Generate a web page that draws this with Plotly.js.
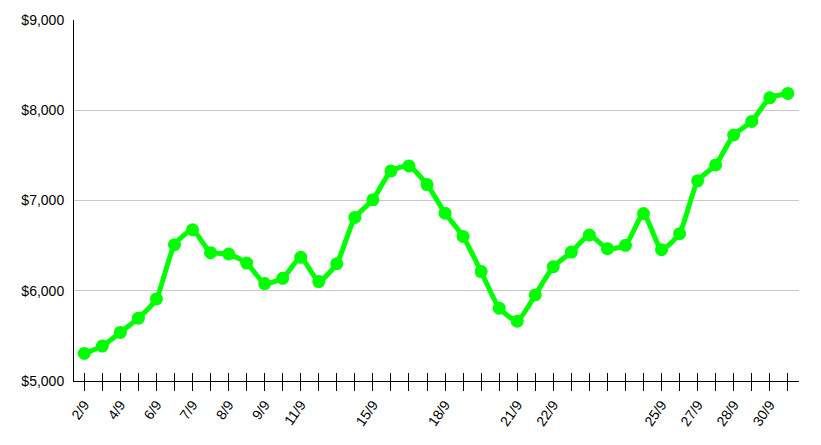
<!DOCTYPE html>
<html>
<head>
<meta charset="utf-8">
<script src="https://cdn.plot.ly/plotly-3.0.1.min.js"></script>
<style>html,body{margin:0;padding:0;background:#fff;}#chart{width:821px;height:445px;}</style>
</head>
<body>
<div id="chart"></div>
<script>
// Tick labels for each of the 40 points ("" = no label shown)
var tickLabels = [
  "2/9","","4/9","","6/9","","7/9","","8/9","",
  "9/9","","11/9","","","","15/9","","","",
  "18/9","","","","21/9","","22/9","","","",
  "","","25/9","","27/9","","28/9","","30/9",""
];
// Series values (USD)
var values = [
  5306, 5387, 5538, 5696, 5909, 6510, 6676, 6422, 6407, 6307,
  6080, 6138, 6370, 6102, 6300, 6812, 7008, 7328, 7383, 7177,
  6860, 6602, 6212, 5807, 5663, 5954, 6267, 6429, 6617, 6466,
  6503, 6856, 6455, 6632, 7218, 7394, 7726, 7876, 8138, 8186
];
var yTicks = [5000, 6000, 7000, 8000, 9000];
var yTickLabels = ["$5,000", "$6,000", "$7,000", "$8,000", "$9,000"];

var idx = tickLabels.map(function(_, i){ return i; });
var green = '#00ff00';
var font = {family: '"Liberation Sans", Arial, sans-serif', size: 14, color: '#000'};
var xr = [-0.57, 39.62];

var trace = {
  x: idx, y: values, type: 'scatter', mode: 'lines+markers',
  line: {color: green, width: 5, shape: 'spline', smoothing: 0.5},
  marker: {color: green, size: 13},
  hoverinfo: 'skip', showlegend: false
};
var ghost = {
  x: idx, y: values, xaxis: 'x2', type: 'scatter', mode: 'lines',
  line: {color: 'rgba(0,0,0,0)', width: 0}, hoverinfo: 'skip', showlegend: false
};

var layout = {
  width: 821, height: 445,
  margin: {l: 74, r: 22, t: 20, b: 64},
  paper_bgcolor: '#fff', plot_bgcolor: '#fff',
  font: font,
  xaxis: {
    range: xr, tickmode: 'array', tickvals: idx, ticktext: tickLabels,
    ticks: 'outside', ticklen: 9, tickwidth: 1, tickcolor: '#000',
    tickangle: -55, showgrid: false, zeroline: false,
    showline: true, linecolor: '#000', linewidth: 1,
    tickfont: font
  },
  xaxis2: {
    range: xr, overlaying: 'x', anchor: 'y', side: 'bottom',
    tickmode: 'array', tickvals: idx, ticktext: idx.map(function(){return '';}),
    ticks: 'inside', ticklen: 8, tickwidth: 1, tickcolor: '#000',
    showgrid: false, zeroline: false, showline: false, showticklabels: false
  },
  yaxis: {
    range: [5000, 9000], tickmode: 'array', tickvals: yTicks, ticktext: yTickLabels,
    ticks: '',
    showgrid: true, gridcolor: '#c8c8c8', gridwidth: 1,
    zeroline: false, showline: true, linecolor: '#000', linewidth: 1,
    ticklabelstandoff: 6, tickfont: font
  }
};
Plotly.newPlot('chart', [ghost, trace], layout, {staticPlot: true, displayModeBar: false});
</script>
</body>
</html>
